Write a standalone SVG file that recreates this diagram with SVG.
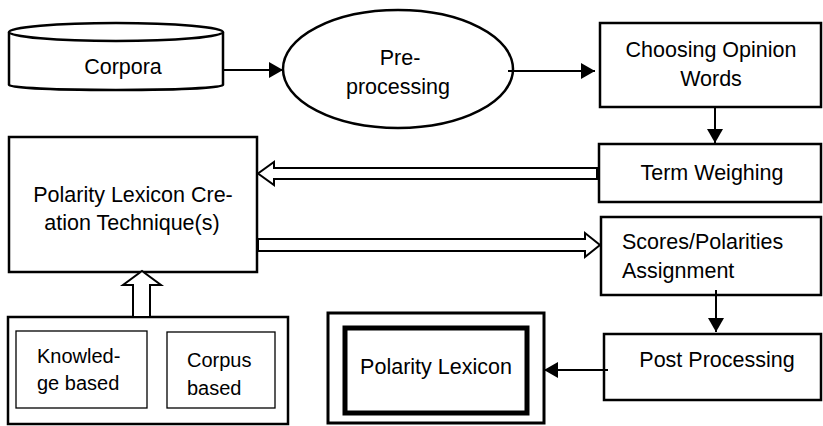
<svg xmlns="http://www.w3.org/2000/svg" width="823" height="426" viewBox="0 0 823 426">
<style>
  .box { fill: #fff; stroke: #000; stroke-width: 2.5; }
  .thin { fill: #fff; stroke: #000; stroke-width: 1.3; }
  .t { font-family: "Liberation Sans", Arial, sans-serif; font-size: 21.5px; fill: #000; }
  .ts { font-family: "Liberation Sans", Arial, sans-serif; font-size: 20px; fill: #000; }
  .c { text-anchor: middle; }
  .line { fill: none; stroke: #000; stroke-width: 2; }
  .hollow { fill: #fff; stroke: #000; stroke-width: 2; stroke-linejoin: miter; }
</style>
<defs>
  <marker id="ah" viewBox="0 0 14 16" refX="14" refY="8" markerWidth="14" markerHeight="16" markerUnits="userSpaceOnUse" orient="auto">
    <path d="M0,0 L14,8 L0,16 Z" fill="#000"/>
  </marker>
  <clipPath id="clipScores"><rect x="601" y="217" width="222" height="66"/></clipPath>
</defs>
<rect width="823" height="426" fill="#fff"/>

<g id="corpora">
  <path class="box" d="M9,32 L9,85 A107,5 0 0 0 223,85 L223,32"/>
  <ellipse class="box" cx="116" cy="32" rx="107" ry="9"/>
  <text class="t c" x="123" y="74">Corpora</text>
</g>

<g id="preprocessing">
  <ellipse class="box" cx="398" cy="69" rx="115" ry="59"/>
  <text class="t c" x="400" y="65">Pre-</text>
  <text class="t c" x="398" y="94">processing</text>
</g>

<g id="choosing">
  <rect class="box" x="600" y="23" width="221" height="84"/>
  <text class="t c" x="711" y="57">Choosing Opinion</text>
  <text class="t c" x="711" y="86">Words</text>
</g>

<g id="term">
  <rect class="box" x="599" y="144" width="222" height="58"/>
  <text class="t c" x="712" y="180">Term Weighing</text>
</g>

<g id="scores">
  <rect class="box" x="601" y="217" width="220" height="78"/>
  <g clip-path="url(#clipScores)">
    <text class="t" x="622" y="249">Scores/Polarities</text>
    <text class="t" x="622" y="278">Assignment</text>
  </g>
</g>

<g id="post">
  <rect class="box" x="604" y="334" width="217" height="66"/>
  <text class="t c" x="717" y="367">Post Processing</text>
</g>

<g id="lexicon">
  <rect fill="#fff" stroke="#000" stroke-width="3" x="328" y="313" width="216" height="110"/>
  <rect fill="#fff" stroke="#000" stroke-width="5" x="345" y="328" width="182" height="85"/>
  <text class="t c" x="436" y="374">Polarity Lexicon</text>
</g>

<g id="technique">
  <rect class="box" x="9" y="137" width="248" height="135"/>
  <text class="t c" x="133" y="202">Polarity Lexicon Cre-</text>
  <text class="t c" x="132" y="230">ation Technique(s)</text>
</g>

<g id="approaches">
  <rect class="box" x="8" y="317" width="280" height="107"/>
  <g id="knowledge">
    <rect class="thin" x="16" y="331" width="131" height="77"/>
    <text class="ts" x="37" y="363">Knowled-</text>
    <text class="ts" x="37" y="390">ge based</text>
  </g>
  <g id="corpus">
    <rect class="thin" x="167" y="332" width="108" height="76"/>
    <text class="ts" x="187" y="367">Corpus</text>
    <text class="ts" x="187" y="395">based</text>
  </g>
</g>

<g id="connectors">
  <line class="line" x1="224" y1="70" x2="283" y2="70" marker-end="url(#ah)"/>
  <line class="line" x1="508" y1="71" x2="595" y2="71" marker-end="url(#ah)"/>
  <line class="line" x1="715" y1="107" x2="715" y2="143" marker-end="url(#ah)"/>
  <line class="line" x1="716" y1="290" x2="716" y2="332" marker-end="url(#ah)"/>
  <line class="line" x1="608" y1="370" x2="544" y2="370" marker-end="url(#ah)"/>
  <polygon class="hollow" points="597,168 274,168 274,162 258,173.5 274,185 274,179 597,179"/>
  <polygon class="hollow" points="258,239 585,239 585,233 600,245 585,257 585,251 258,251"/>
  <polygon class="hollow" points="133,317 133,285 123,285 142,271 161,285 150,285 150,317"/>
</g>
</svg>
